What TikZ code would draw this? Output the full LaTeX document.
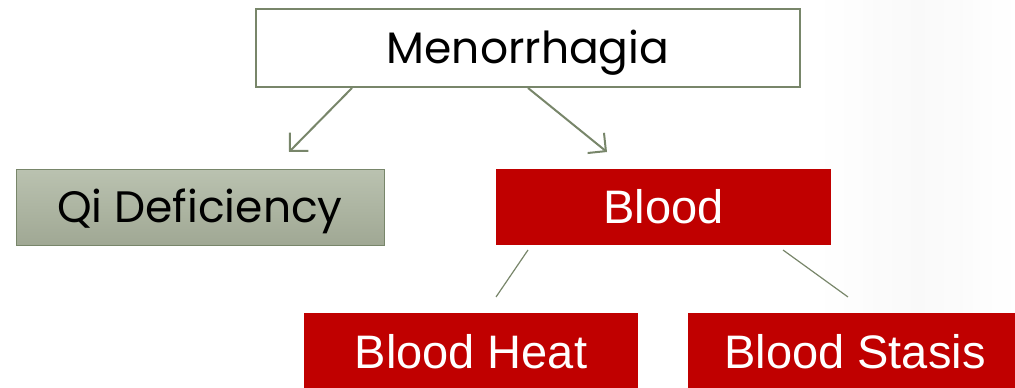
\documentclass[tikz,border=0pt]{standalone}
\usepackage{fontspec}
\setmainfont{Liberation Sans}
\newfontfamily\geofont{Poppins}
\usetikzlibrary{arrows.meta}
\definecolor{boxgreen}{RGB}{120,134,106}
\definecolor{qitop}{RGB}{186,194,176}
\definecolor{qibot}{RGB}{160,168,148}
\definecolor{bloodred}{RGB}{192,0,0}
\tikzset{
  box/.style={rectangle, inner sep=0pt, text depth=0pt, align=center},
  whitebox/.style={box, text height=31pt, draw=boxgreen, line width=2pt, fill=white, font=\geofont\fontsize{44}{50}\selectfont},
  qibox/.style={box, text height=30pt, draw=boxgreen, line width=1pt, top color=qitop, bottom color=qibot, font=\geofont\fontsize{44}{50}\selectfont},
  redbox/.style={box, text height=33pt, fill=bloodred, text=white, font=\fontsize{47}{52}\selectfont},
  arrowline/.style={draw=boxgreen, line width=2pt, -{Straight Barb[length=13pt,width=26pt,line width=2pt]}},
  thinline/.style={draw=boxgreen, line width=1.2pt},
}
\begin{document}
\begin{tikzpicture}[x=1pt,y=-1pt]
\useasboundingbox (0,0) rectangle (1015,388);
\clip (0,0) rectangle (1015,388);
% faint slide background shading
\shade[left color=white, right color=white, middle color=black!4, draw=none, opacity=0.6] (820,0) rectangle (1015,388);

\node[whitebox, minimum width=544pt, minimum height=78pt] (men) at (528,48) {Menorrhagia};
\node[qibox, minimum width=368pt, minimum height=76pt] (qi) at (200,207) {Qi Deficiency};
\node[redbox, minimum width=335pt, minimum height=76pt] (blood) at (663.5,207) {Blood};
\node[redbox, minimum width=334pt, minimum height=78pt] (heat) at (471,352) {Blood Heat};
\node[redbox, minimum width=334pt, minimum height=78pt] (stasis) at (855,352) {Blood Stasis};

\coordinate (a1s) at (352,88);
\coordinate (a1e) at (289,152);
\coordinate (a2s) at (528,88);
\coordinate (a2e) at (607,152);
\coordinate (l1s) at (528,250);
\coordinate (l1e) at (496,297);
\coordinate (l2s) at (783,250);
\coordinate (l2e) at (848,297);

\draw[arrowline] (a1s) -- (a1e);
\draw[arrowline] (a2s) -- (a2e);
\draw[thinline] (l1s) -- (l1e);
\draw[thinline] (l2s) -- (l2e);
\end{tikzpicture}
\end{document}
